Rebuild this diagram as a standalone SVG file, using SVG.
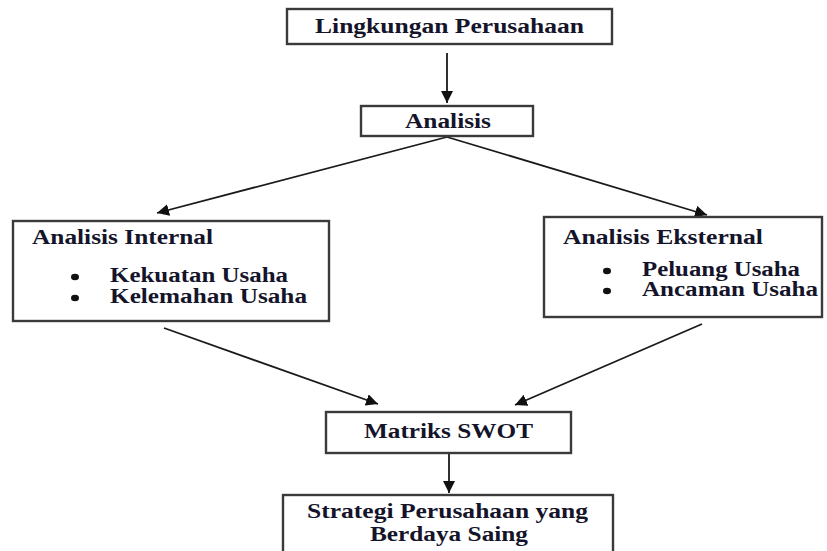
<svg xmlns="http://www.w3.org/2000/svg" width="827" height="551" viewBox="0 0 827 551">
<style>
.box{fill:#fff;stroke:#3a3a3a;stroke-width:2.4}
.t{font-family:"Liberation Serif","Times New Roman",serif;font-weight:bold;font-size:20px;fill:#14142a}
.c{stroke:#1a1a1a;stroke-width:1.8;fill:none;marker-end:url(#ah)}
.b{fill:#111}
</style>
<defs>
<marker id="ah" markerUnits="userSpaceOnUse" markerWidth="14" markerHeight="12" refX="12" refY="6" orient="auto">
<path d="M0,0 L12,6 L0,12 Z" fill="#111"/>
</marker>
</defs>
<rect width="827" height="551" fill="#fff"/>
<g id="connectors">
<line class="c" x1="447" y1="53" x2="447" y2="103"/>
<line class="c" x1="447" y1="137" x2="157" y2="213"/>
<line class="c" x1="447" y1="137" x2="707" y2="215"/>
<line class="c" x1="164" y1="328" x2="378" y2="404"/>
<line class="c" x1="702" y1="324" x2="515" y2="405"/>
<line class="c" x1="449" y1="453" x2="449" y2="493"/>
</g>
<g id="lingkungan">
<rect class="box" x="287" y="9" width="325" height="35"/>
<text class="t" x="315" y="33" textLength="269" lengthAdjust="spacingAndGlyphs">Lingkungan Perusahaan</text>
</g>
<g id="analisis">
<rect class="box" x="361" y="106" width="172" height="30"/>
<text class="t" x="405" y="128" textLength="86" lengthAdjust="spacingAndGlyphs">Analisis</text>
</g>
<g id="internal">
<rect class="box" x="13" y="221" width="316" height="100"/>
<text class="t" x="32" y="244" textLength="181" lengthAdjust="spacingAndGlyphs">Analisis Internal</text>
<ellipse class="b" cx="75" cy="277" rx="4" ry="3.2"/>
<text class="t" x="110" y="282" textLength="178" lengthAdjust="spacingAndGlyphs">Kekuatan Usaha</text>
<ellipse class="b" cx="75" cy="298" rx="4" ry="3.2"/>
<text class="t" x="110" y="303" textLength="197" lengthAdjust="spacingAndGlyphs">Kelemahan Usaha</text>
</g>
<g id="eksternal">
<rect class="box" x="544" y="217" width="278" height="100"/>
<text class="t" x="563" y="244" textLength="200" lengthAdjust="spacingAndGlyphs">Analisis Eksternal</text>
<ellipse class="b" cx="607" cy="271" rx="4" ry="3.2"/>
<text class="t" x="642" y="276" textLength="158" lengthAdjust="spacingAndGlyphs">Peluang Usaha</text>
<ellipse class="b" cx="607" cy="291" rx="4" ry="3.2"/>
<text class="t" x="642" y="296" textLength="176" lengthAdjust="spacingAndGlyphs">Ancaman Usaha</text>
</g>
<g id="swot">
<rect class="box" x="326" y="412" width="245" height="41"/>
<text class="t" x="364" y="438" textLength="169" lengthAdjust="spacingAndGlyphs">Matriks SWOT</text>
</g>
<g id="strategi">
<rect class="box" x="283" y="495" width="330" height="70"/>
<text class="t" x="307" y="518" textLength="281" lengthAdjust="spacingAndGlyphs">Strategi Perusahaan yang</text>
<text class="t" x="370" y="541" textLength="158" lengthAdjust="spacingAndGlyphs">Berdaya Saing</text>
</g>
</svg>
